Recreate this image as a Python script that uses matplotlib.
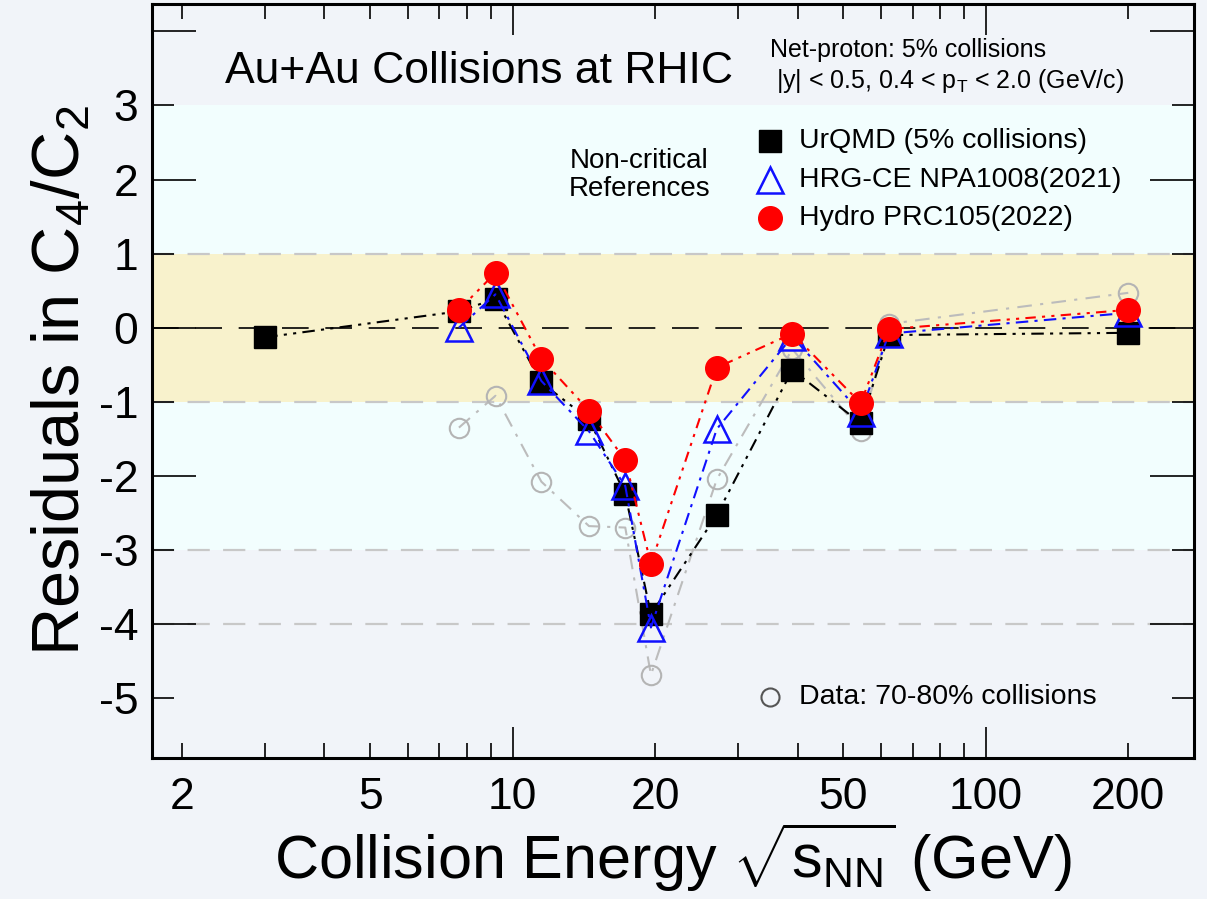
import numpy as np
import matplotlib
matplotlib.use("Agg")
import matplotlib.pyplot as plt
from matplotlib.ticker import FixedLocator, FuncFormatter

plt.rcParams['font.family'] = ['Liberation Sans', 'DejaVu Sans']
plt.rcParams['mathtext.fontset'] = 'custom'
plt.rcParams['mathtext.rm'] = 'Liberation Sans'
plt.rcParams['mathtext.it'] = 'Liberation Sans'

# collision energies (GeV)
energy = [3.0, 7.7, 9.2, 11.5, 14.5, 17.3, 19.6, 27, 39, 54.4, 62.4, 200]
urqmd = [-0.13, 0.22, 0.39, -0.74, -1.24, -2.25, -3.87, -2.53, -0.57, -1.29, -0.10, -0.07]

energy_ref = [7.7, 9.2, 11.5, 14.5, 17.3, 19.6, 27, 39, 54.4, 62.4, 200]
hrg_ce = [0.0, 0.45, -0.72, -1.40, -2.14, -4.05, -1.37, -0.12, -1.15, -0.08, 0.20]
hydro = [0.24, 0.74, -0.42, -1.12, -1.79, -3.19, -0.54, -0.08, -1.02, -0.02, 0.24]
data_peripheral = [-1.35, -0.92, -2.08, -2.68, -2.70, -4.69, -2.05, -0.29, -1.39, 0.05, 0.47]

x_ticks = [2, 5, 10, 20, 50, 100, 200]

bg = '#f1f4f9'
fig = plt.figure(figsize=(12.07, 8.99), dpi=100, facecolor=bg)
ax = fig.add_axes([0.126, 0.157, 0.863, 0.8385])
ax.set_facecolor(bg)

ax.set_xscale('log')
ax.set_xlim(1.73, 275)
ax.set_ylim(-5.81, 4.37)

# bands
ax.axhspan(-3, 3, color='#f2fefe', zorder=0, lw=0)
ax.axhspan(-1, 1, color='#f8f2cc', zorder=0.5, lw=0)
for yv in [1, -1, -3, -4]:
    ax.axhline(yv, color='#c8c8c8', lw=1.6, dashes=(10, 6), zorder=1)
ax.axhline(0, color='black', lw=1.2, dashes=(16, 10), zorder=1)

# model/data curves
ax.plot(energy_ref, data_peripheral, color='#bcbcbc', lw=1.5, dashes=(7, 4, 1.5, 4),
        marker='o', ms=14, mfc='none', mec='#b4b4b4', mew=1.5, zorder=2)
ax.plot(energy, urqmd, color='black', lw=1.5, dashes=(6, 3, 1.5, 3, 1.5, 3),
        marker='s', ms=16, mfc='black', mec='black', zorder=3)
ax.plot(energy_ref, hrg_ce, color='#1010ff', lw=1.5, dashes=(6, 3, 1.5, 3),
        marker='^', ms=19, mfc='none', mec='#1010ff', mew=1.8, zorder=4)
ax.plot(energy_ref, hydro, color='#ff0000', lw=1.5, dashes=(5, 3, 1.5, 3, 1.5, 3),
        marker='o', ms=17, mfc='#ff0000', mec='#ff0000', zorder=5)

# axes ticks
ax.xaxis.set_major_locator(FixedLocator([10, 100]))
ax.xaxis.set_minor_locator(FixedLocator([2, 3, 4, 5, 6, 7, 8, 9, 20, 30, 40, 50, 60, 70, 80, 90, 200]))
ax.xaxis.set_major_formatter(FuncFormatter(lambda v, p: '%d' % v))
ax.xaxis.set_minor_formatter(FuncFormatter(lambda v, p: '%d' % v if int(round(v)) in x_ticks else ''))
ax.yaxis.set_major_locator(FixedLocator([-4, -2, 0, 2, 4]))
ax.yaxis.set_minor_locator(FixedLocator([-5, -3, -1, 1, 3]))
ylab = lambda v, p: '%d' % v if -5 <= v <= 3 else ''
ax.yaxis.set_major_formatter(FuncFormatter(ylab))
ax.yaxis.set_minor_formatter(FuncFormatter(ylab))

ax.tick_params(which='both', direction='in', top=True, right=True, labelsize=32,
               width=1.2, color='black')
ax.tick_params(axis='x', which='major', length=22, pad=14)
ax.tick_params(axis='x', which='minor', length=11, pad=14)
ax.tick_params(axis='y', which='major', length=32, pad=10)
ax.tick_params(axis='y', which='minor', length=16, pad=10)
for s in ax.spines.values():
    s.set_linewidth(2.2)

ax.set_xlabel(r'Collision Energy $\sqrt{\mathrm{s_{NN}}}$ (GeV)', fontsize=44, labelpad=2)
ax.set_ylabel(r'Residuals in C$_4$/C$_2$', fontsize=48, labelpad=4)

# annotations
ax.text(0.070, 0.910, 'Au+Au Collisions at RHIC', transform=ax.transAxes,
        fontsize=32, va='center', ha='left')
ax.text(0.593, 0.939, 'Net-proton: 5% collisions', transform=ax.transAxes,
        fontsize=18, va='center', ha='left')
ax.text(0.599, 0.898, r'|y| < 0.5, 0.4 < p$_\mathrm{T}$ < 2.0 (GeV/c)', transform=ax.transAxes,
        fontsize=18, va='center', ha='left')
ax.text(0.468, 0.773, 'Non-critical\nReferences', transform=ax.transAxes,
        fontsize=20, va='center', ha='center', linespacing=1.1)

# legend
lx, tx = 0.593, 0.621
ax.plot([lx], [0.818], transform=ax.transAxes, marker='s', ms=16, color='black')
ax.plot([lx], [0.767], transform=ax.transAxes, marker='^', ms=19, mfc='none', mec='#1010ff', mew=1.8)
ax.plot([lx], [0.716], transform=ax.transAxes, marker='o', ms=17, color='#ff0000')
ax.plot([lx], [0.081], transform=ax.transAxes, marker='o', ms=13, mfc='none', mec='#555555', mew=1.5)
ax.text(tx, 0.818, 'UrQMD (5% collisions)', transform=ax.transAxes, fontsize=20.5, va='center')
ax.text(tx, 0.767, 'HRG-CE NPA1008(2021)', transform=ax.transAxes, fontsize=20.5, va='center')
ax.text(tx, 0.716, 'Hydro PRC105(2022)', transform=ax.transAxes, fontsize=20.5, va='center')
ax.text(tx, 0.081, 'Data: 70-80% collisions', transform=ax.transAxes, fontsize=20.5, va='center')

fig.savefig('out.png', dpi=100, facecolor=bg)
